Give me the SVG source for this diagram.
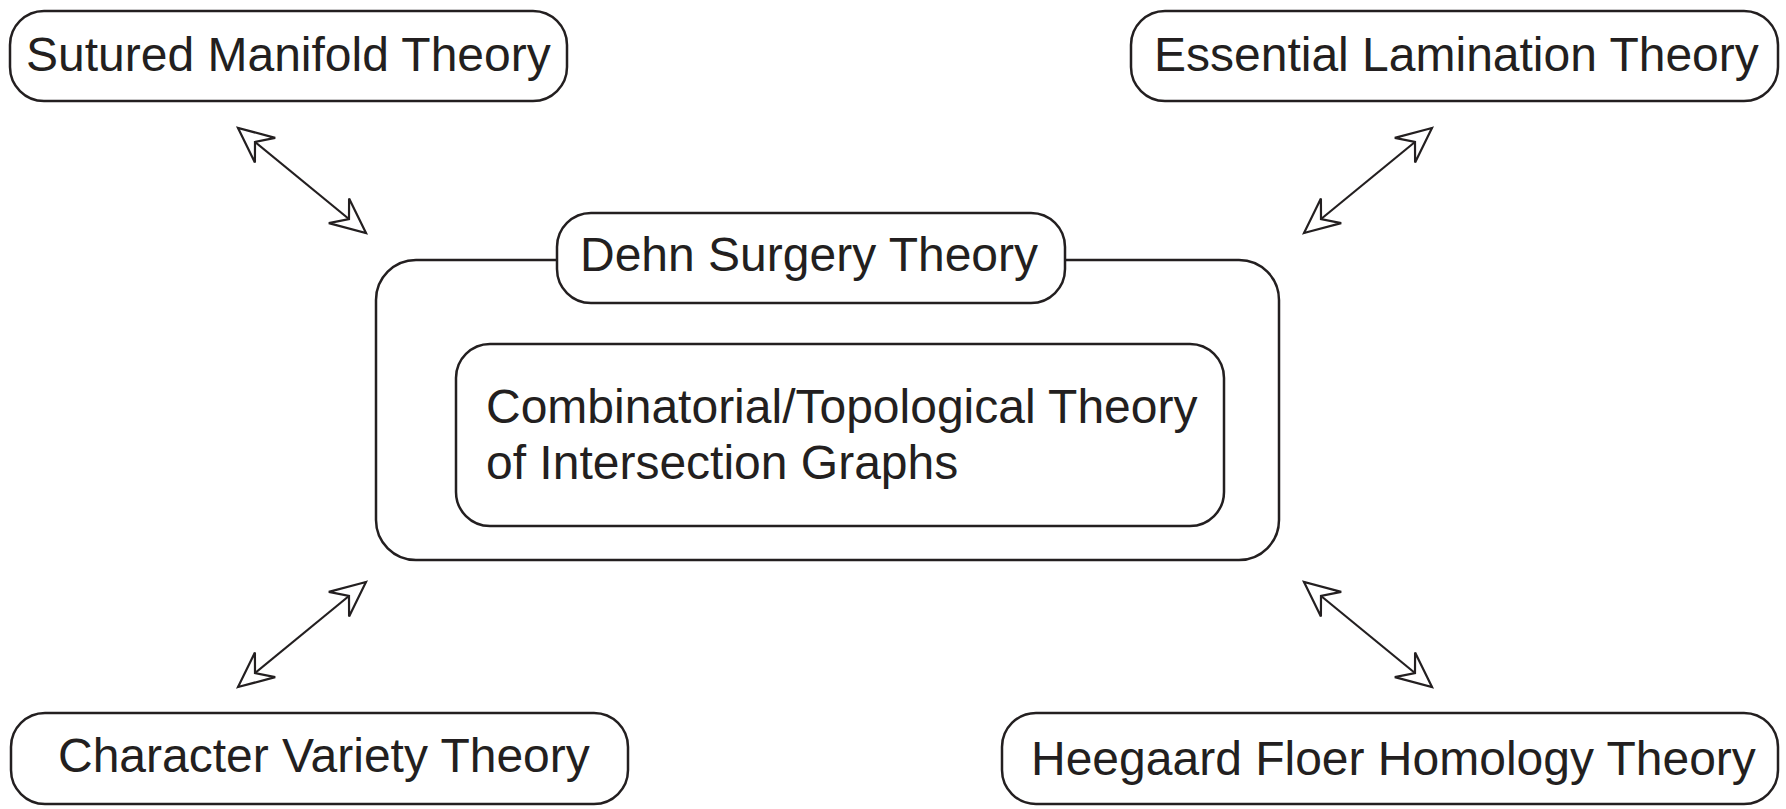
<svg xmlns="http://www.w3.org/2000/svg" width="1786" height="809" viewBox="0 0 1786 809">
<style>
.box{fill:#fff;stroke:#231f20;stroke-width:2.5}
.lbl{font-family:"Liberation Sans",Arial,sans-serif;font-size:48px;fill:#231f20}
.conn{stroke:#231f20;stroke-width:2.2;fill:none}
</style>
<defs>
<marker id="ah" viewBox="-40 -22 46 44" refX="0" refY="0" markerWidth="46" markerHeight="44" markerUnits="userSpaceOnUse" orient="auto-start-reverse" overflow="visible">
<path d="M0,0 L-35,-16 L-22,0 L-35,16 Z" fill="#fff" stroke="#231f20" stroke-width="2.2" stroke-linejoin="miter"/>
</marker>
</defs>
<rect width="1786" height="809" fill="#fff"/>
<g id="connectors">
<line class="conn" x1="238" y1="128" x2="366" y2="233" marker-start="url(#ah)" marker-end="url(#ah)"/>
<line class="conn" x1="1432" y1="128" x2="1304" y2="233" marker-start="url(#ah)" marker-end="url(#ah)"/>
<line class="conn" x1="366" y1="582" x2="238" y2="687" marker-start="url(#ah)" marker-end="url(#ah)"/>
<line class="conn" x1="1304" y1="582" x2="1432" y2="687" marker-start="url(#ah)" marker-end="url(#ah)"/>
</g>
<g id="sutured">
<rect class="box" x="10" y="11" width="557" height="90" rx="34"/>
<text class="lbl" x="26" y="71">Sutured Manifold Theory</text>
</g>
<g id="essential">
<rect class="box" x="1131" y="11" width="647" height="90" rx="34"/>
<text class="lbl" x="1154" y="71">Essential Lamination Theory</text>
</g>
<g id="dehn-outer">
<rect class="box" x="376" y="260" width="903" height="300" rx="40"/>
</g>
<g id="dehn">
<rect class="box" x="557" y="213" width="508" height="90" rx="34"/>
<text class="lbl" x="580" y="271">Dehn Surgery Theory</text>
</g>
<g id="combinatorial">
<rect class="box" x="456" y="344" width="768" height="182" rx="34"/>
<text class="lbl" x="486" y="423">Combinatorial/Topological Theory</text>
<text class="lbl" x="486" y="479">of Intersection Graphs</text>
</g>
<g id="character">
<rect class="box" x="11" y="713" width="617" height="91" rx="34"/>
<text class="lbl" x="58" y="772">Character Variety Theory</text>
</g>
<g id="heegaard">
<rect class="box" x="1002" y="713" width="776" height="91" rx="34"/>
<text class="lbl" x="1031" y="775">Heegaard Floer Homology Theory</text>
</g>
</svg>
